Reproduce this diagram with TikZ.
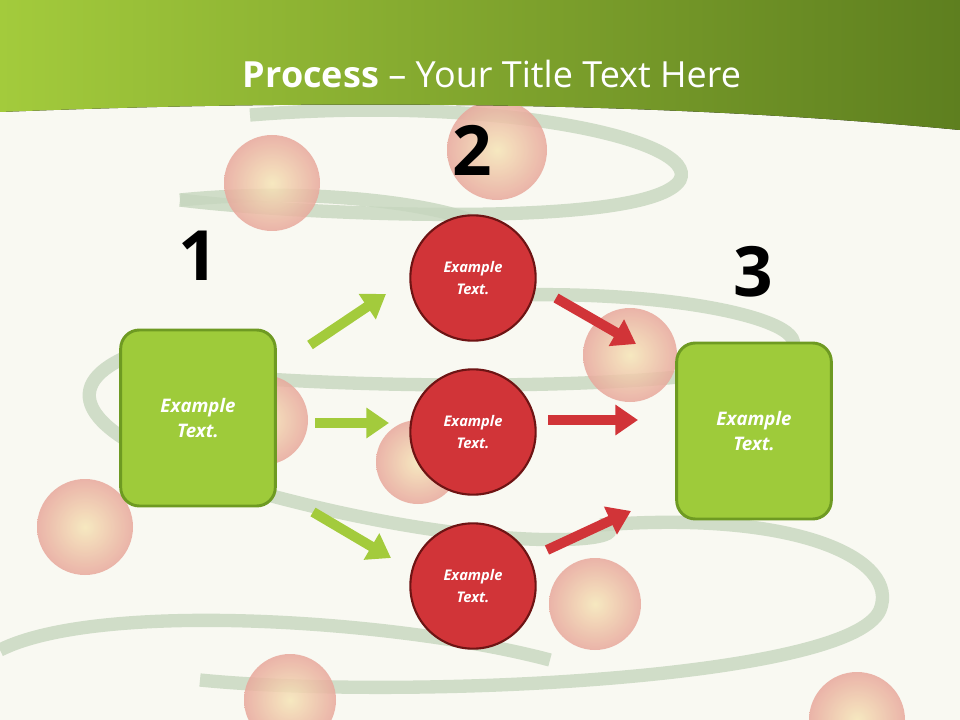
\documentclass[tikz,border=0pt]{standalone}
\usepackage{fontspec}
\setmainfont{Open Sans}
\usetikzlibrary{arrows.meta,shadings}
\definecolor{bg}{HTML}{F9F9F2}
\definecolor{gl}{HTML}{A3CB3C}
\definecolor{gd}{HTML}{5E7F1F}
\definecolor{boxg}{HTML}{9ECB3A}
\definecolor{boxb}{HTML}{6E9A22}
\definecolor{redc}{HTML}{D13438}
\definecolor{redb}{HTML}{6E1414}
\definecolor{swirl}{HTML}{C6D6BE}
\definecolor{pinkin}{HTML}{F6E6B8}
\definecolor{pinkout}{HTML}{E8A89C}
\tikzset{
  box/.style={draw=boxb,line width=2.2pt,fill=boxg,rounded corners=14pt,minimum width=116pt,minimum height=132pt,text=white,font=\bfseries\itshape\fontsize{14}{19}\selectfont,align=center},
  circ/.style={circle,draw=redb,line width=1.6pt,fill=redc,minimum size=94pt,text=white,font=\bfseries\itshape\fontsize{11}{17}\selectfont,align=center},
  num/.style={font=\bfseries\fontsize{52}{54}\selectfont},
  garrow/.style={line width=7.5pt,draw=gl,-{Triangle[length=17pt,width=22pt]}},
  rarrow/.style={line width=7.5pt,draw=redc,-{Triangle[length=17pt,width=22pt]}},
  ball/.style={circle,inner color=pinkin,outer color=pinkout,opacity=0.85,draw=none},
  sw/.style={draw=swirl,line width=10pt,opacity=0.8}
}
\begin{document}
\begin{tikzpicture}[x=0.75pt,y=-0.75pt]
\useasboundingbox (0,0) rectangle (960,720);
\fill[bg] (0,0) rectangle (960,720);
\draw[sw] (250,115) .. controls (500,95) and (700,140) .. (680,180) .. controls (650,230) and (300,215) .. (180,200);
\draw[sw] (180,200) .. controls (380,180) and (550,230) .. (460,240);
\draw[sw] (420,300) .. controls (650,280) and (820,320) .. (790,350) .. controls (750,400) and (200,390) .. (120,360) .. controls (60,390) and (80,440) .. (250,490) .. controls (500,560) and (650,540) .. (600,525);
\draw[sw] (600,525) .. controls (800,510) and (900,560) .. (880,610) .. controls (850,680) and (400,700) .. (200,680);
\draw[sw] (0,650) .. controls (100,600) and (400,620) .. (550,660);
\foreach \bx/\by/\br in {272/183/48,497/150/50,263/420/45,85/527/48,418/462/42,630/355/47,595/604/46,290/700/46,857/720/48}
  \node[ball,minimum size=1.5*\br pt] (b\bx) at (\bx,\by) {};
\fill[left color=gl,right color=gd] (0,112) .. controls (300,100) and (650,100) .. (960,130) -- (960,0) -- (0,0) -- cycle;
\node[text=white,font=\fontsize{27}{32}\selectfont] (title) at (492,74) {\textbf{Process} -- Your Title Text Here};
\node[num] (n1) at (198,256) {1};
\node[num] (n2) at (472,150) {2};
\node[num] (n3) at (753,272) {3};
\node[box] (box1) at (198,418) {Example\\Text.};
\node[box] (box3) at (754,431) {Example\\Text.};
\node[circ] (c1) at (473,278) {Example\\Text.};
\node[circ] (c2) at (473,432) {Example\\Text.};
\node[circ] (c3) at (473,586) {Example\\Text.};
\coordinate (g1s) at (310,345); \coordinate (g1e) at (386,294);
\coordinate (g2s) at (315,423); \coordinate (g2e) at (389,423);
\coordinate (g3s) at (313,512); \coordinate (g3e) at (391,558);
\coordinate (r1s) at (556,298); \coordinate (r1e) at (636,344);
\coordinate (r2s) at (548,420); \coordinate (r2e) at (638,420);
\coordinate (r3s) at (547,550); \coordinate (r3e) at (631,511);
\draw[garrow] (g1s) -- (g1e);
\draw[garrow] (g2s) -- (g2e);
\draw[garrow] (g3s) -- (g3e);
\draw[rarrow] (r1s) -- (r1e);
\draw[rarrow] (r2s) -- (r2e);
\draw[rarrow] (r3s) -- (r3e);
\end{tikzpicture}
\end{document}
